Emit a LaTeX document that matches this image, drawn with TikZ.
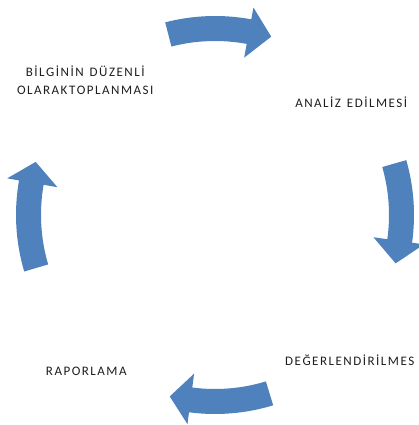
\documentclass[tikz,border=0pt]{standalone}
\usepackage{fontspec}
\setmainfont{Carlito}
\definecolor{arrowblue}{HTML}{4F81BD}
\definecolor{textgray}{HTML}{1E1E1E}
\newcommand\spc[1]{\spcaux#1\relax}
\def\spcaux#1{\ifx#1\relax\else#1\kern1.5pt\expandafter\spcaux\fi}
\tikzset{
  lbl/.style={font=\fontsize{13}{18}\selectfont, text=textgray, inner sep=0pt, align=center},
}
\newcommand{\cycarrow}[3]{%
  \fill[arrowblue] (#1:199) arc[start angle=#1, end angle=#2, radius=199]
    -- (#2:211) -- (#3:187) -- (#2:160) -- (#2:174)
    arc[start angle=#2, end angle=#1, radius=174] -- cycle;}
\begin{document}
\begin{tikzpicture}[x=1pt,y=1pt]
\useasboundingbox (0,0) rectangle (419,425);
\begin{scope}[shift={(215,210)}]
  \cycarrow{104.5}{79.5}{72.5}
  \cycarrow{16}{-8}{-15}
  \cycarrow{-73}{-97.5}{-104}
  \cycarrow{196.5}{170}{163.5}
\end{scope}
\node[lbl] (t1) at (86,345) {\spc{BİLGİNİN~DÜZENLİ}\\\spc{OLARAKTOPLANMASI}};
\node[lbl] (t2) at (352,323) {\spc{ANALİZ~EDİLMESİ}};
\node[lbl, anchor=west] (t3) at (285,65) {\spc{DEĞERLENDİRİLMES}};
\node[lbl] (t4) at (87,54) {\spc{RAPORLAMA}};
\end{tikzpicture}
\end{document}
